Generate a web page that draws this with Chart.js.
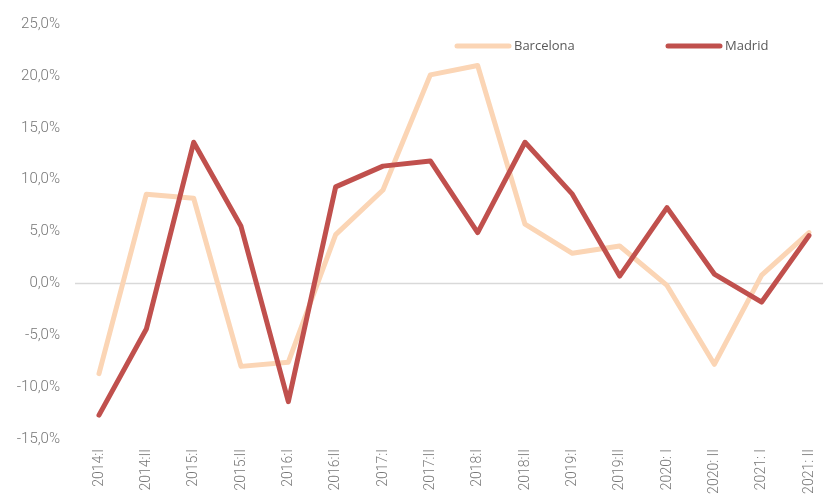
<!DOCTYPE html>
<html>
<head>
<meta charset="utf-8">
<script src="https://cdn.jsdelivr.net/npm/chart.js@4"></script>
<style>
  html, body { margin: 0; padding: 0; background: #fff; overflow: hidden; }
  #wrap { position: relative; width: 823px; height: 498px; }
</style>
</head>
<body>
<div id="wrap"><canvas id="chart"></canvas></div>
<script>
'use strict';

// periods (x axis)
var periods = ['2014:I', '2014:II', '2015:I', '2015:II', '2016:I', '2016:II', '2017:I', '2017:II',
  '2018:I', '2018:II', '2019:I', '2019:II', '2020: I', '2020: II', '2021: I', '2021: II'];

// % variation
var barcelona = [-8.7, 8.6, 8.2, -8.0, -7.6, 4.7, 9.0, 20.1, 21.0, 5.7, 2.9, 3.6, -0.2, -7.8, 0.8, 4.9];
var madrid = [-12.7, -4.4, 13.6, 5.5, -11.4, 9.3, 11.3, 11.8, 4.9, 13.6, 8.6, 0.7, 7.3, 0.9, -1.8, 4.6];

var colBarcelona = '#FBD5B5';
var colMadrid = '#C0504D';
var textColor = '#595959';
var tickColor = '#777777';

// zero line, runs a bit past the plot like the excel one
var zeroLine = {
  id: 'zeroLine',
  beforeDatasetsDraw: function(chart) {
    var ctx = chart.ctx;
    var y = Math.round(chart.scales.y.getPixelForValue(0)) + 0.5;
    ctx.save();
    ctx.beginPath();
    ctx.moveTo(75, y);
    ctx.lineTo(chart.width, y);
    ctx.lineWidth = 1.5;
    ctx.strokeStyle = '#D9D9D9';
    ctx.stroke();
    ctx.restore();
  }
};

// legend sitting inside the plot
var lineLegend = {
  id: 'lineLegend',
  afterDraw: function(chart) {
    var ctx = chart.ctx;
    var items = [
      { text: 'Barcelona', color: colBarcelona, x: 457 },
      { text: 'Madrid', color: colMadrid, x: 668 }
    ];
    ctx.save();
    items.forEach(function(it) {
      ctx.beginPath();
      ctx.moveTo(it.x, 46);
      ctx.lineTo(it.x + 52, 46);
      ctx.lineWidth = 5;
      ctx.lineCap = 'round';
      ctx.strokeStyle = it.color;
      ctx.stroke();
      ctx.fillStyle = textColor;
      ctx.font = '13px "Open Sans", sans-serif';
      ctx.textBaseline = 'middle';
      ctx.fillText(it.text, it.x + 57, 46);
    });
    ctx.restore();
  }
};

new Chart(document.getElementById('chart'), {
  type: 'line',
  data: {
    labels: periods,
    datasets: [{
      label: 'Barcelona',
      data: barcelona,
      borderColor: colBarcelona,
      backgroundColor: colBarcelona,
      borderWidth: 5,
      pointRadius: 0,
      tension: 0,
      borderCapStyle: 'round',
      borderJoinStyle: 'round',
      order: 1
    }, {
      label: 'Madrid',
      data: madrid,
      borderColor: colMadrid,
      backgroundColor: colMadrid,
      borderWidth: 5,
      pointRadius: 0,
      tension: 0,
      borderCapStyle: 'round',
      borderJoinStyle: 'round',
      order: 0
    }]
  },
  options: {
    responsive: true,
    maintainAspectRatio: false,
    animation: false,
    clip: false,
    layout: {
      padding: { top: 24, right: 14, left: 0, bottom: 0 }
    },
    scales: {
      x: {
        offset: false,
        grid: { display: false, drawTicks: false },
        border: { display: false },
        ticks: {
          autoSkip: false,
          minRotation: 90,
          maxRotation: 90,
          padding: 10,
          color: tickColor,
          font: { family: 'Roboto', size: 14, weight: '300' }
        },
        afterFit: function(scale) {
          scale.height = 59;
          scale.paddingLeft = 0;
          scale.paddingRight = 0;
          scale.paddingTop = 0;
          scale.paddingBottom = 0;
        }
      },
      y: {
        min: -15,
        max: 25,
        grid: { display: false, drawTicks: false },
        border: { display: false },
        ticks: {
          stepSize: 5,
          padding: 39,
          color: tickColor,
          font: { family: 'Roboto', size: 15, weight: '300' },
          callback: function(v) { return v.toFixed(1).replace('.', ',') + '%'; }
        },
        afterFit: function(scale) {
          scale.width = 99;
          scale.paddingTop = 0;
          scale.paddingBottom = 0;
        }
      }
    },
    plugins: {
      legend: { display: false },
      tooltip: { enabled: false },
      title: { display: false }
    }
  },
  plugins: [zeroLine, lineLegend]
});
</script>
</body>
</html>
